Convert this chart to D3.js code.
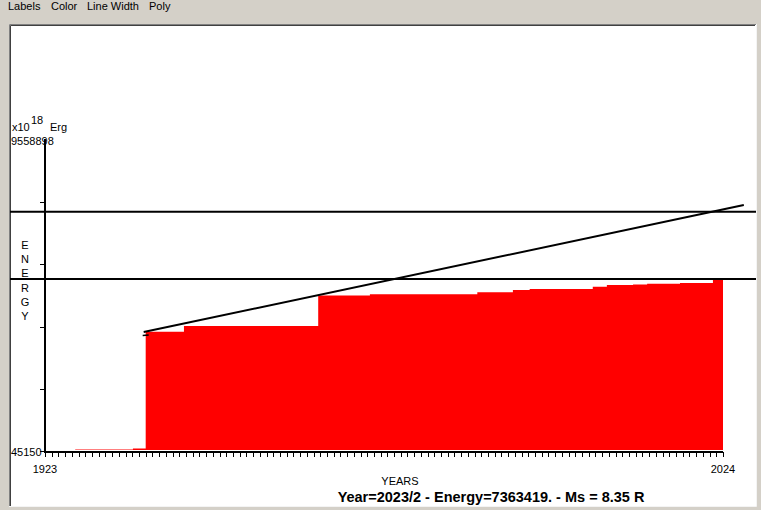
<!DOCTYPE html>
<html lang="en">
<head>
<meta charset="utf-8">
<title>Energy</title>
<script src="https://cdn.jsdelivr.net/npm/d3@7"></script>
<style>
	body { margin: 0; background: #d4d0c8; }
	text { font-family: "Liberation Sans", Arial, sans-serif; fill: #000; }
	.menu text { font-size: 11px; }
	.lbl { font-size: 11px; }
	.axis line { stroke: #000; shape-rendering: crispEdges; }
</style>
</head>
<body>
<div id="chart"></div>
<script>
	var width = 761,
		height = 510;

	// the data
	var menuItems = ["Labels", "Color", "Line Width", "Poly"];
	var yearRange = [1923, 2024];
	var energyRange = [45150, 9558898];

	// cumulative energy steps (year, energy)
	var stepYears = [1927.5, 1936.1, 1938.0, 1943.7, 1963.7, 1971.4, 1987.4, 1992.7, 1995.2, 2004.6, 2006.7, 2010.6, 2012.7, 2017.6, 2022.5, 2024];
	var stepEnergy = [91000, 121000, 3690000, 3870000, 4800000, 4840000, 4900000, 4970000, 5000000, 5070000, 5120000, 5140000, 5165000, 5185000, 5276000, 5276000];

	// trend line end points
	var trendYears = [1937.7, 2027.1];
	var trendEnergy = [3685000, 7570000];

	// reference levels
	var levels = [7363419, 5306000];

	var title = "Year=2023/2 - Energy=7363419. - Ms = 8.35 R";

	var svg = d3.select("#chart")
		.append("svg")
		.attr("width", width)
		.attr("height", height);

	// menu bar
	var menuX = [8, 51, 87, 149];
	svg.append("g").attr("class", "menu")
		.selectAll("text")
		.data(menuItems)
		.enter().append("text")
		.attr("x", function (d, i) { return menuX[i]; })
		.attr("y", 10)
		.text(function (d) { return d; });

	// white panel with sunken border
	svg.append("rect").attr("x", 9).attr("y", 24).attr("width", 747).attr("height", 483).attr("fill", "#fff");
	svg.append("path").attr("d", "M9.5,507V24.5H756").attr("fill", "none").attr("stroke", "#808080");
	svg.append("path").attr("d", "M10.5,506V25.5H755").attr("fill", "none").attr("stroke", "#404040");
	svg.append("path").attr("d", "M9,506.5H756.5V24").attr("fill", "none").attr("stroke", "#f4f4f4");

	var x = d3.scaleLinear().domain(yearRange).range([45, 723]);
	var y = d3.scaleLinear().domain(energyRange).range([451, 140]);

	// red step area
	var steps = stepYears.map(function (d, i) { return [d, stepEnergy[i]]; });
	var area = d3.area()
		.curve(d3.curveStepAfter)
		.x(function (d) { return x(d[0]); })
		.y0(y(energyRange[0]) - 1)
		.y1(function (d) { return y(d[1]); });
	svg.append("path")
		.datum(steps)
		.attr("fill", "#ff0000")
		.attr("d", area);

	// horizontal reference lines
	svg.append("g")
		.selectAll("line")
		.data(levels)
		.enter().append("line")
		.attr("x1", 10).attr("x2", 756)
		.attr("y1", function (d) { return y(d); })
		.attr("y2", function (d) { return y(d); })
		.attr("stroke", "#000")
		.attr("stroke-width", 2);

	// trend line
	svg.append("line")
		.attr("x1", x(trendYears[0])).attr("y1", y(trendEnergy[0]))
		.attr("x2", x(trendYears[1])).attr("y2", y(trendEnergy[1]))
		.attr("stroke", "#000")
		.attr("stroke-width", 2);
	svg.append("line")
		.attr("x1", x(trendYears[0]) - 1).attr("y1", y(trendEnergy[0]) + 3.5)
		.attr("x2", x(trendYears[0]) + 5).attr("y2", y(trendEnergy[0]) + 3)
		.attr("stroke", "#000")
		.attr("stroke-width", 1.5);

	// y axis
	var yTicks = d3.range(5).map(function (i) {
		return energyRange[0] + i * (energyRange[1] - energyRange[0]) / 5;
	});
	var yAxis = svg.append("g")
		.attr("class", "axis")
		.attr("transform", "translate(45,0)")
		.call(d3.axisLeft(y).tickValues(yTicks).tickSize(5).tickFormat(""));
	yAxis.select(".domain").remove();
	svg.append("line")
		.attr("x1", 45).attr("x2", 45)
		.attr("y1", y(energyRange[1]) - 1).attr("y2", 453)
		.attr("stroke", "#000").attr("stroke-width", 2);

	// x axis
	var xAxis = svg.append("g")
		.attr("class", "axis")
		.attr("transform", "translate(0,452)")
		.call(d3.axisBottom(x).tickValues(d3.range(yearRange[0], yearRange[1] + 1)).tickSize(5).tickFormat(""));
	xAxis.select(".domain").remove();
	svg.append("line")
		.attr("x1", 44).attr("x2", x(yearRange[1]))
		.attr("y1", 452).attr("y2", 452)
		.attr("stroke", "#000").attr("stroke-width", 2);

	// labels
	svg.append("text").attr("class", "lbl").attr("x", 12).attr("y", 131).text("x10");
	svg.append("text").attr("class", "lbl").attr("x", 31).attr("y", 124).text("18");
	svg.append("text").attr("class", "lbl").attr("x", 50).attr("y", 131).text("Erg");
	svg.append("text").attr("class", "lbl").attr("x", 11).attr("y", 145).text(d3.format("d")(energyRange[1]));
	svg.append("text").attr("class", "lbl").attr("x", 11).attr("y", 456).text(d3.format("d")(energyRange[0]));

	svg.selectAll(".yr")
		.data(yearRange)
		.enter().append("text")
		.attr("class", "lbl")
		.attr("x", function (d) { return x(d); })
		.attr("y", 473)
		.attr("text-anchor", "middle")
		.text(function (d) { return d; });

	svg.append("text").attr("class", "lbl")
		.attr("x", 400).attr("y", 485)
		.attr("text-anchor", "middle")
		.text("YEARS");

	svg.selectAll(".en")
		.data("ENERGY".split(""))
		.enter().append("text")
		.attr("class", "lbl")
		.attr("x", 25)
		.attr("y", function (d, i) { return 249 + i * 14.2; })
		.attr("text-anchor", "middle")
		.text(function (d) { return d; });

	svg.append("text")
		.attr("x", 491).attr("y", 502)
		.attr("text-anchor", "middle")
		.style("font-size", "14.5px")
		.style("font-weight", "bold")
		.text(title);
</script>
</body>
</html>
